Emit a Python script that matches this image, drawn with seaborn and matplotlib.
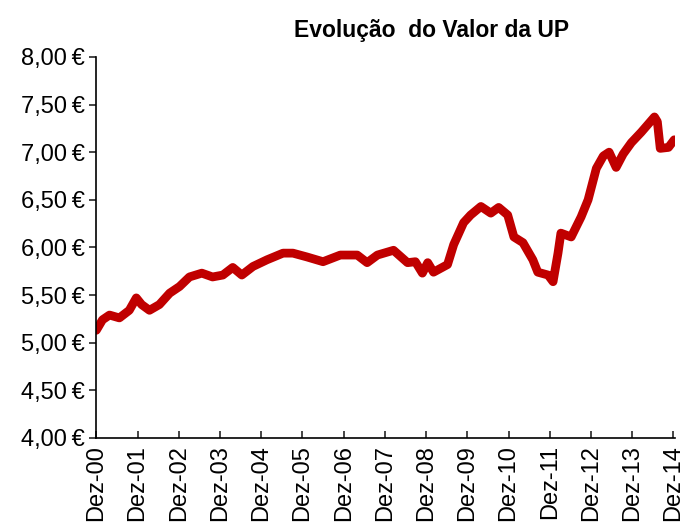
import numpy as np
import pandas as pd
import seaborn as sns
import matplotlib.pyplot as plt

# anos desde Dez-00 e valor da UP (EUR)
anos = [0.00, 0.15, 0.32, 0.56, 0.80, 0.97, 1.10, 1.29, 1.53, 1.78, 2.02, 2.26,
        2.56, 2.82, 3.07, 3.31, 3.53, 3.80, 4.14, 4.53, 4.77, 5.11,
        5.50, 5.92, 6.33, 6.57, 6.82, 7.21, 7.55, 7.74, 7.91, 8.04,
        8.18, 8.52, 8.67, 8.91, 9.08, 9.33, 9.57, 9.76, 9.98, 10.13,
        10.35, 10.59, 10.71, 10.96, 11.08, 11.20, 11.27, 11.52, 11.76, 11.93,
        12.13, 12.30, 12.44, 12.61, 12.78, 12.98, 13.22, 13.54, 13.61, 13.68,
        13.88, 14.02]
valor = [5.13, 5.24, 5.29, 5.26, 5.34, 5.47, 5.40, 5.34, 5.40, 5.52, 5.59, 5.69,
         5.73, 5.69, 5.71, 5.79, 5.71, 5.80, 5.87, 5.94, 5.94, 5.90,
         5.85, 5.92, 5.92, 5.84, 5.92, 5.97, 5.84, 5.85, 5.73, 5.84,
         5.74, 5.82, 6.03, 6.26, 6.34, 6.43, 6.36, 6.42, 6.34, 6.11,
         6.05, 5.87, 5.74, 5.71, 5.64, 5.94, 6.15, 6.11, 6.32, 6.50,
         6.83, 6.96, 7.00, 6.84, 6.98, 7.10, 7.21, 7.37, 7.32, 7.04,
         7.05, 7.13]

rotulos_x = ["Dez-%02d" % a for a in range(0, 15)]
ticks_y = [4.0, 4.5, 5.0, 5.5, 6.0, 6.5, 7.0, 7.5, 8.0]

sns.set_style("white")
plt.rcParams['font.family'] = ['Liberation Sans', 'DejaVu Sans']

df = pd.DataFrame({"anos": anos, "valor": valor})

fig = plt.figure(figsize=(6.83, 5.27), dpi=100)
ax = fig.add_axes([0.141, 0.169, 0.848, 0.723])

sns.lineplot(data=df, x="anos", y="valor", ax=ax, color="#C00000",
             linewidth=6.3, solid_joinstyle="round", solid_capstyle="round")

ax.set_xlim(0, 14.05)
ax.set_ylim(4, 8)
ax.set_xticks(range(0, 15))
ax.set_xticklabels(rotulos_x, rotation=90, fontsize=17, color="black")
ax.set_yticks(ticks_y)
ax.set_yticklabels([("%.2f\u2009€" % v).replace(".", ",") for v in ticks_y],
                   fontsize=17, color="black")
ax.set_xlabel("")
ax.set_ylabel("")

sns.despine(ax=ax)
for s in ["left", "bottom"]:
    ax.spines[s].set_color("black")
    ax.spines[s].set_linewidth(1.2)
ax.tick_params(axis="x", direction="in", length=5, width=1.2, pad=5, bottom=True)
ax.tick_params(axis="y", direction="out", length=5, width=1.2, pad=3, left=True)

fig.text(0.632, 0.942, "Evolução  do Valor da UP", ha="center", va="center",
         fontsize=16.5, fontweight="bold", color="black")

plt.savefig("out.png", dpi=100)
plt.close()
